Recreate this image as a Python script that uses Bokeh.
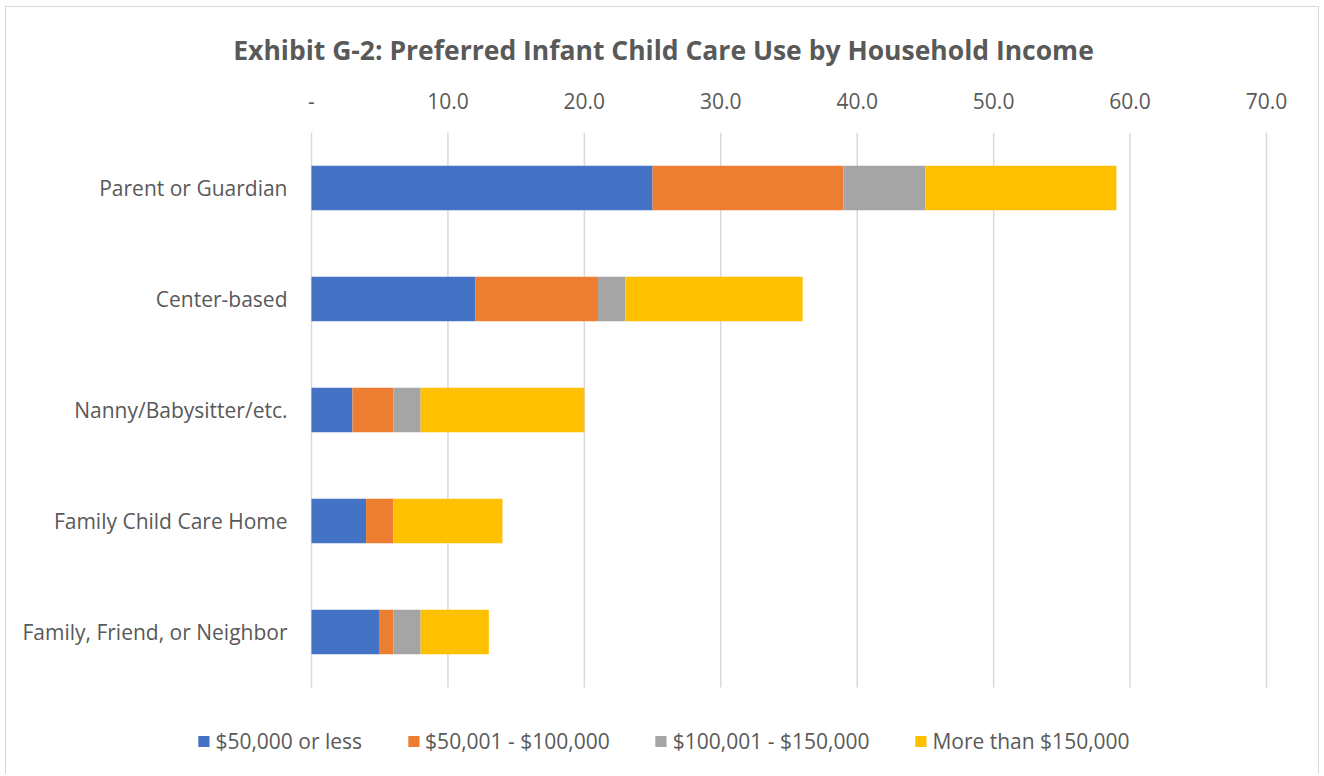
from bokeh.plotting import figure
from bokeh.models import Range1d, Legend, LegendItem, FixedTicker, Title, ColumnDataSource
from bokeh.core.properties import value
from bokeh.embed import file_html
from bokeh.resources import INLINE

categories = ["Parent or Guardian", "Center-based", "Nanny/Babysitter/etc.",
              "Family Child Care Home", "Family, Friend, or Neighbor"]
series_names = ["$50,000 or less", "$50,001 - $100,000", "$100,001 - $150,000", "More than $150,000"]
low = [25, 12, 3, 4, 5]
mid = [14, 9, 3, 2, 1]
upper = [6, 2, 2, 0, 2]
high = [14, 13, 12, 8, 5]
tick_values = [0, 10, 20, 30, 40, 50, 60, 70]
tick_labels = ["-", "10.0", "20.0", "30.0", "40.0", "50.0", "60.0", "70.0"]
colors = ["#4472C4", "#ED7D31", "#A5A5A5", "#FFC000"]

FONT = "Open Sans"
TXT = "#595959"
GRID = "#D9D9D9"

# layout constants (pixels)
W, H = 1314, 768
FRAME_TOP = 125
PX_PER_X = 955 / 70.0          # plot area 0..70 spans 955 px
PLOT_LEFT = 305                # pixel of x=0 inside canvas
PX_PER_Y = 111.0               # one category band
PLOT_BOTTOM = 680              # pixel (from canvas top) of the lowest band edge

n = len(categories)
ypos = [n - i for i in range(n)]
x_lo = -PLOT_LEFT / PX_PER_X
x_hi = (W - PLOT_LEFT) / PX_PER_X
y_hi = n + 0.5
y_lo = 0.5 - (H - PLOT_BOTTOM) / PX_PER_Y

src = ColumnDataSource(dict(y=ypos, cat=categories, s0=low, s1=mid, s2=upper, s3=high))
keys = ["s0", "s1", "s2", "s3"]

p = figure(width=W, height=H, output_backend="svg", toolbar_location=None,
           x_range=Range1d(x_lo, x_hi), y_range=Range1d(y_lo, y_hi),
           x_axis_location="above", y_axis_location=None,
           min_border_left=0, min_border_right=0, min_border_top=FRAME_TOP, min_border_bottom=0)
p.styles = {"border-top": "1px solid #D9D9D9", "border-left": "1px solid #D9D9D9",
            "border-right": "1px solid #D9D9D9"}
p.margin = (6, 0, 0, 5)

# vertical gridlines
p.segment(x0=tick_values, y0=[0.5] * len(tick_values), x1=tick_values,
          y1=[n + 0.5] * len(tick_values), line_color=GRID, line_width=1.5)

rs = p.hbar_stack(keys, y="y", height=0.4, color=colors, source=src, line_width=0)

# category labels
p.text(x=-24 / PX_PER_X, y="y", text="cat", source=src, text_align="right",
       text_baseline="middle", text_font=value(FONT), text_font_size="21px", text_color=TXT)

p.title = Title(text="Exhibit G-2: Preferred Infant Child Care Use by Household Income",
                align="center", text_font=FONT, text_font_size="26.5px",
                text_font_style="bold", text_color=TXT, standoff=43)

xa = p.xaxis[0]
xa.ticker = FixedTicker(ticks=tick_values)
xa.major_label_overrides = {v: l for v, l in zip(tick_values, tick_labels)}
xa.axis_line_color = None
xa.major_tick_line_color = None
xa.minor_tick_line_color = None
xa.major_label_text_font = FONT
xa.major_label_text_font_size = "21px"
xa.major_label_text_color = TXT
xa.major_label_standoff = 18

p.xgrid.grid_line_color = None
p.ygrid.grid_line_color = None
p.outline_line_color = None

legend = Legend(items=[LegendItem(label=s, renderers=[r]) for s, r in zip(series_names, rs)],
                orientation="horizontal", location="bottom_center",
                label_text_font=FONT, label_text_font_size="21px", label_text_color=TXT,
                glyph_width=14, glyph_height=14, label_standoff=5, spacing=44,
                border_line_color=None, background_fill_alpha=0, padding=5, margin=20)
p.add_layout(legend, "center")

open("out.html", "w").write(file_html(p, INLINE))
